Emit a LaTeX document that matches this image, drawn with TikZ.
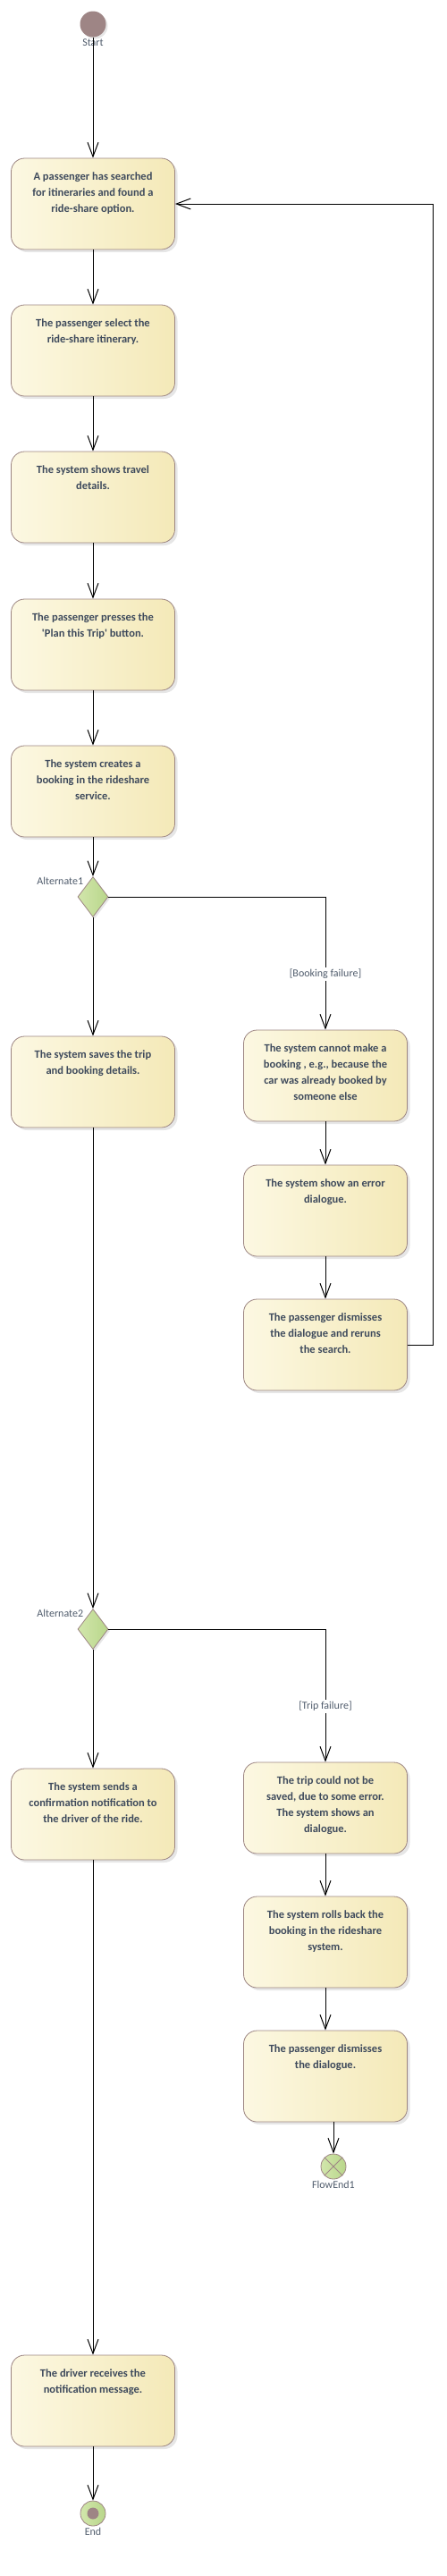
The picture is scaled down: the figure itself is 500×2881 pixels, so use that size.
\documentclass[tikz,border=0pt]{standalone}
\usepackage{fontspec}
\setmainfont{Carlito}
\usetikzlibrary{positioning,shapes.geometric,shadows,arrows.meta}
\definecolor{boxleft}{HTML}{FCF8E2}
\definecolor{boxright}{HTML}{F4E9B8}
\definecolor{boxline}{HTML}{9C8582}
\definecolor{boxtext}{HTML}{3E4A5C}
\definecolor{tagtext}{HTML}{505C6C}
\definecolor{leafleft}{HTML}{D2E6AC}
\definecolor{leafright}{HTML}{B8D68A}
\definecolor{dotfill}{HTML}{9E8585}
\newcommand{\acttext}[1]{\parbox[c][102pt][t]{178pt}{\centering\vspace*{12pt}\strut #1}}
\tikzset{
    activity/.style = {draw=boxline, line width=0.8pt, left color=boxleft, right color=boxright, rounded corners=15pt, minimum width=183pt, inner sep=0pt, text=boxtext, font=\bfseries\fontsize{12.5}{18}\selectfont, drop shadow={shadow xshift=3pt, shadow yshift=-3pt, opacity=0.2}},
    choice/.style = {diamond, draw=boxline, line width=0.8pt, left color=leafleft, right color=leafright, minimum width=34pt, minimum height=45pt, inner sep=0pt, drop shadow={shadow xshift=2pt, shadow yshift=-2pt, opacity=0.2}},
    startdot/.style = {circle, fill=dotfill, minimum size=29pt, inner sep=0pt, drop shadow={shadow xshift=2pt, shadow yshift=-2pt, opacity=0.2}},
    enddot/.style = {circle, draw=dotfill, line width=0.8pt, left color=leafleft, right color=leafright, minimum size=28pt, inner sep=0pt, path picture={\fill[dotfill] (path picture bounding box.center) circle (6.5pt);}},
    flowend/.style = {circle, draw=dotfill, line width=0.8pt, left color=leafleft, right color=leafright, minimum size=28pt, inner sep=0pt, path picture={\draw[dotfill, line width=0.9pt] (path picture bounding box.north west) -- (path picture bounding box.south east) (path picture bounding box.north east) -- (path picture bounding box.south west);}},
    tag/.style = {text=tagtext, font=\fontsize{12}{14}\selectfont, inner sep=1pt},
    guard/.style = {text=tagtext, font=\fontsize{12}{14}\selectfont, fill=white, inner sep=2pt},
    flow/.style = {draw, line width=1pt, -{Straight Barb[length=16pt, width=12pt]}},
}
\begin{document}
\begin{tikzpicture}[x=1pt, y=-1pt]
\useasboundingbox (0,0) rectangle (500,2881);

% main column
\node[startdot] (start) at (104,27) {};
\node[tag, below=1pt of start] (startlabel) {Start};
\node[activity] (search) at (104,228) {\acttext{A passenger has searched\\for itineraries and found a\\ride-share option.}};
\node[activity] (select) at (104,392) {\acttext{The passenger select the\\ride-share itinerary.}};
\node[activity] (details) at (104,556) {\acttext{The system shows travel\\details.}};
\node[activity] (plan) at (104,721) {\acttext{The passenger presses the\\\textquotesingle Plan this Trip\textquotesingle{} button.}};
\node[activity] (create) at (104,885) {\acttext{The system creates a\\booking in the rideshare\\service.}};
\node[choice] (alt1) at (104,1003) {};
\node[tag, anchor=east, xshift=-1pt, yshift=6pt] (alt1label) at (alt1.north west) {Alternate1};
\node[activity] (saves) at (104,1210) {\acttext{The system saves the trip\\and booking details.}};
\node[choice] (alt2) at (104,1822) {};
\node[tag, anchor=east, xshift=-1pt, yshift=6pt] (alt2label) at (alt2.north west) {Alternate2};
\node[activity] (notify) at (104,2029) {\acttext{The system sends a\\confirmation notification to\\the driver of the ride.}};
\node[activity] (receive) at (104,2685) {\acttext{The driver receives the\\notification message.}};
\node[enddot] (end) at (104,2811) {};
\node[tag, below=1pt of end] (endlabel) {End};

% booking failure branch
\node[activity] (cannot) at (364,1203) {\acttext{The system cannot make a\\booking , e.g., because the\\car was already booked by\\someone else}};
\node[activity] (error) at (364,1354) {\acttext{The system show an error\\dialogue.}};
\node[activity] (rerun) at (364,1504) {\acttext{The passenger dismisses\\the dialogue and reruns\\the search.}};

% trip failure branch
\node[activity] (tripfail) at (364,2022) {\acttext{The trip could not be\\saved, due to some error.\\The system shows an\\dialogue.}};
\node[activity] (rollback) at (364,2172) {\acttext{The system rolls back the\\booking in the rideshare\\system.}};
\node[activity] (dismiss) at (364,2322) {\acttext{The passenger dismisses\\the dialogue.}};
\node[flowend] (stop) at (373,2423) {};
\node[tag, below=1pt of stop] (stoplabel) {FlowEnd1};

% connectors
\draw[flow] (start) -- (search);
\draw[flow] (search) -- (select);
\draw[flow] (select) -- (details);
\draw[flow] (details) -- (plan);
\draw[flow] (plan) -- (create);
\draw[flow] (create) -- (alt1);
\draw[flow] (alt1) -- (saves);
\draw[flow] (alt1.east) -| node[guard, pos=0.79] {[Booking failure]} (cannot.north);
\draw[flow] (cannot) -- (error);
\draw[flow] (error) -- (rerun);
\draw[flow] (rerun.east) -- ++(29pt,0) |- (search.east);
\draw[flow] (saves) -- (alt2);
\draw[flow] (alt2) -- (notify);
\draw[flow] (alt2.east) -| node[guard, pos=0.79] {[Trip failure]} (tripfail.north);
\draw[flow] (tripfail) -- (rollback);
\draw[flow] (rollback) -- (dismiss);
\draw[flow] (dismiss.south -| stop.north) -- (stop);
\draw[flow] (notify) -- (receive);
\draw[flow] (receive) -- (end);
\end{tikzpicture}
\end{document}
